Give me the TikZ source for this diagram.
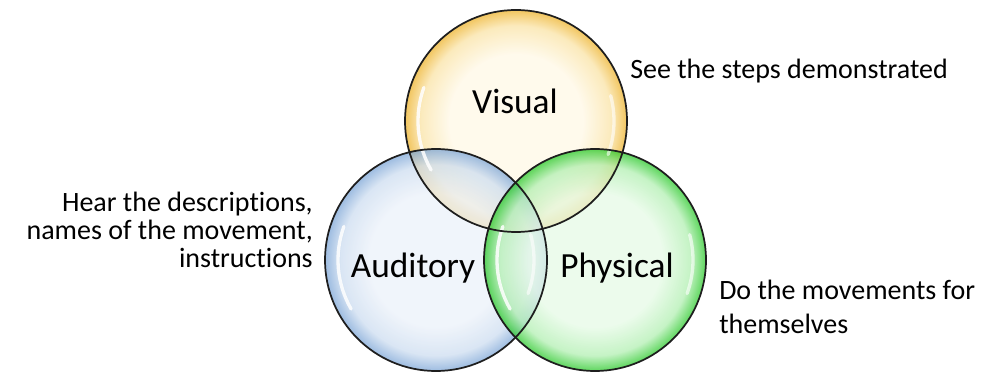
\documentclass[tikz,border=0pt]{standalone}
\usepackage{fontspec}
\setmainfont{Carlito}[Ligatures={NoCommon}]
\definecolor{vin}{HTML}{FFF8E6}
\definecolor{vmid}{HTML}{FAE3A6}
\definecolor{vout}{HTML}{EDB22A}
\definecolor{ain}{HTML}{EBF1F9}
\definecolor{amid}{HTML}{CDDDF0}
\definecolor{aout}{HTML}{7CA5D6}
\definecolor{pin}{HTML}{E6FAE6}
\definecolor{pmid}{HTML}{B2EFB2}
\definecolor{pout}{HTML}{28C828}
\definecolor{rim}{HTML}{1E1E1E}
\pgfdeclareradialshading{bubV}{\pgfpoint{0bp}{0bp}}{color(0bp)=(vin); color(15bp)=(vin); color(21.5bp)=(vmid); color(25bp)=(vout); color(50bp)=(vout)}
\pgfdeclareradialshading{bubA}{\pgfpoint{0bp}{0bp}}{color(0bp)=(ain); color(15bp)=(ain); color(21.5bp)=(amid); color(25bp)=(aout); color(50bp)=(aout)}
\pgfdeclareradialshading{bubP}{\pgfpoint{0bp}{0bp}}{color(0bp)=(pin); color(15bp)=(pin); color(21.5bp)=(pmid); color(25bp)=(pout); color(50bp)=(pout)}
\tikzset{
  bubble/.style={fill opacity=0.75},
  rimline/.style={draw=rim, line width=1.3pt},
  gloss/.style={white, line width=2.5pt, line cap=round, opacity=0.85},
  big/.style={font=\fontsize{26.5}{30}\selectfont, inner sep=0pt},
  side/.style={font=\fontsize{21}{21}\selectfont, inner sep=0pt}
}
\begin{document}
\begin{tikzpicture}[x=0.75pt,y=-0.75pt]
\useasboundingbox (0,0) rectangle (999,388);
\coordinate (cv) at (516,121);
\coordinate (ca) at (436,260);
\coordinate (cp) at (595,260);
\def\R{111}
% fills
\shade[shading=bubV, bubble] (cv) circle[radius=\R];
\shade[shading=bubA, bubble] (ca) circle[radius=\R];
\shade[shading=bubP, bubble] (cp) circle[radius=\R];
% gloss highlights
\draw[gloss] ([shift={(cv)}]200:98) arc[start angle=200, end angle=150, radius=98];
\draw[gloss] ([shift={(ca)}]200:98) arc[start angle=200, end angle=150, radius=98];
\draw[gloss] ([shift={(cp)}]200:98) arc[start angle=200, end angle=150, radius=98];
\draw[gloss, opacity=0.6] ([shift={(cp)}]-15:98) arc[start angle=-15, end angle=20, radius=98];
\draw[gloss, opacity=0.6] ([shift={(ca)}]-15:98) arc[start angle=-15, end angle=20, radius=98];
\draw[gloss, opacity=0.6] ([shift={(cv)}]-15:98) arc[start angle=-15, end angle=20, radius=98];
% outlines
\draw[rimline] (cv) circle[radius=\R];
\draw[rimline] (ca) circle[radius=\R];
\draw[rimline] (cp) circle[radius=\R];
% labels
\node[big] (lv) at (515,101) {Visual};
\node[big] (la) at (413,268) {Auditory};
\node[big] (lp) at (617,268) {Physical};
\node[side, anchor=base west] (tv) at (630,79) {See the steps demonstrated};
\node[side, anchor=north east, align=right] (ta) at (313,192) {Hear the descriptions,\\names of the movement,\\instructions};
\node[side, anchor=north west, align=left, font=\fontsize{21}{25.5}\selectfont] (tp) at (719,280) {Do the movements for\\themselves};
\end{tikzpicture}
\end{document}
